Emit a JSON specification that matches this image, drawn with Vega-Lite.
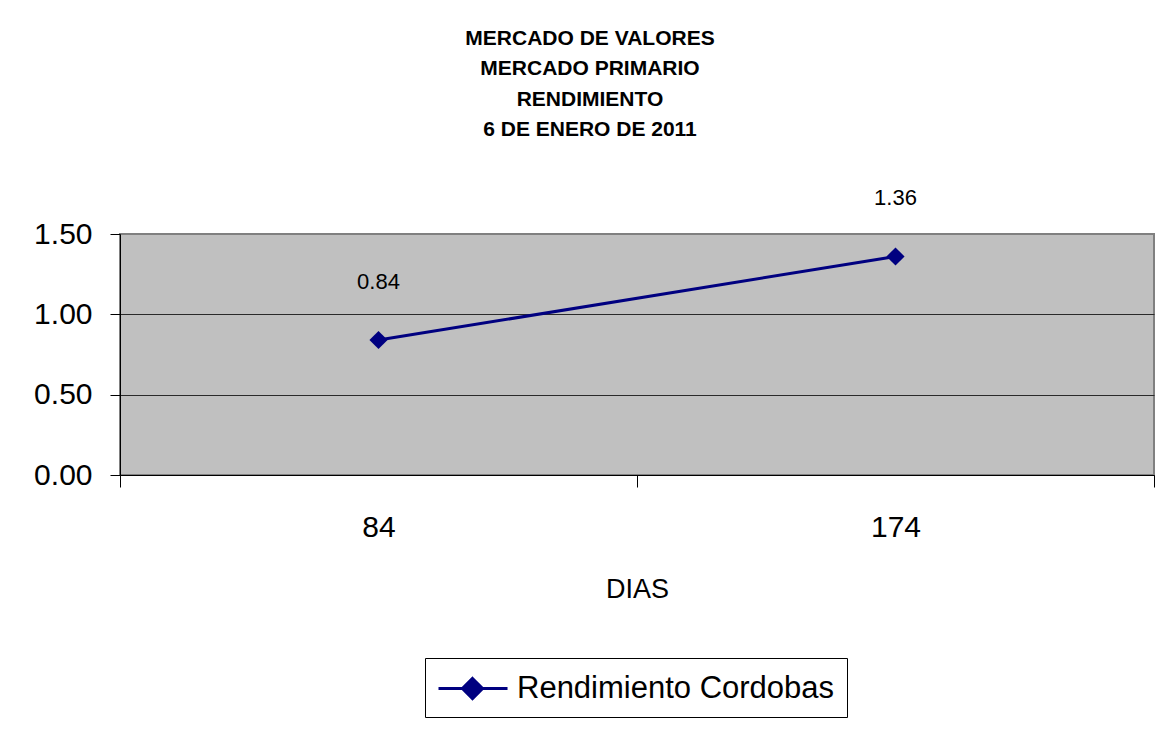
{
  "$schema": "https://vega.github.io/schema/vega-lite/v6.json",
  "width": 1034,
  "height": 241,
  "autosize": {"type": "none"},
  "padding": {"left": 120, "top": 234, "right": 22, "bottom": 256},
  "background": "white",
  "title": {
    "text": ["MERCADO DE VALORES", "MERCADO PRIMARIO", "RENDIMIENTO", "6 DE ENERO DE 2011"],
    "font": "Liberation Sans",
    "fontSize": 21,
    "fontWeight": "bold",
    "color": "black",
    "lineHeight": 30.5,
    "anchor": "middle",
    "frame": "group",
    "dx": -47,
    "offset": 47
  },
  "data": {
    "values": [
      {"dias": "84", "rendimiento": 0.84, "serie": "Rendimiento Cordobas"},
      {"dias": "174", "rendimiento": 1.36, "serie": "Rendimiento Cordobas"}
    ]
  },
  "encoding": {
    "x": {
      "field": "dias",
      "type": "ordinal",
      "sort": null,
      "bandPosition": 0.5,
      "scale": {"type": "band", "paddingInner": 0, "paddingOuter": 0},
      "axis": {
        "title": "DIAS",
        "titleFont": "Liberation Sans",
        "titleFontSize": 27,
        "titleFontWeight": "normal",
        "titleColor": "black",
        "titlePadding": 34,
        "labelAngle": 0,
        "labelFont": "Liberation Sans",
        "labelFontSize": 30,
        "labelColor": "black",
        "labelPadding": 25,
        "tickSize": 12,
        "tickBand": "extent",
        "tickColor": "black",
        "domainColor": "black",
        "grid": false
      }
    },
    "y": {
      "field": "rendimiento",
      "type": "quantitative",
      "scale": {"domain": [0, 1.5], "nice": false},
      "axis": {
        "title": null,
        "values": [0, 0.5, 1, 1.5],
        "format": ".2f",
        "tickSize": 10,
        "tickColor": "black",
        "domainColor": "black",
        "labelFont": "Liberation Sans",
        "labelFontSize": 30,
        "labelColor": "black",
        "labelPadding": 18,
        "labelBaseline": "middle",
        "grid": true,
        "gridColor": {"condition": {"test": "datum.value === 1.5", "value": "#808080"}, "value": "#2a2a2a"},
        "gridWidth": 1.2
      }
    }
  },
  "layer": [
    {
      "mark": {
        "type": "line",
        "strokeWidth": 3,
        "point": {"shape": "diamond", "size": 330, "filled": true}
      },
      "encoding": {
        "color": {
          "field": "serie",
          "type": "nominal",
          "scale": {"range": ["#000080"]},
          "legend": {
            "title": null,
            "orient": "none",
            "legendX": 305,
            "legendY": 424,
            "symbolType": "M-1,0H3.06M1,-0.59L1.59,0L1,0.59L0.41,0Z",
            "symbolSize": 1156,
            "symbolStrokeWidth": 3,
            "symbolFillColor": "#000080",
            "symbolStrokeColor": "#000080",
            "labelFont": "Liberation Sans",
            "labelFontSize": 31,
            "labelColor": "black",
            "labelLimit": 600,
            "labelOffset": 43,
            "strokeColor": "black",
            "fillColor": "white",
            "padding": 12,
            "encode": {
              "symbols": {
                "update": {
                  "fill": {"value": "#000080"},
                  "stroke": {"value": "#000080"},
                  "strokeWidth": {"value": 3}
                }
              }
            }
          }
        }
      }
    },
    {
      "mark": {
        "type": "text",
        "dy": -46,
        "baseline": "bottom",
        "font": "Liberation Sans",
        "fontSize": 22,
        "color": "black"
      },
      "encoding": {
        "text": {"field": "rendimiento", "type": "quantitative", "format": ".2f"}
      }
    }
  ],
  "config": {
    "view": {"fill": "#C0C0C0", "stroke": "#808080", "strokeWidth": 2}
  }
}
